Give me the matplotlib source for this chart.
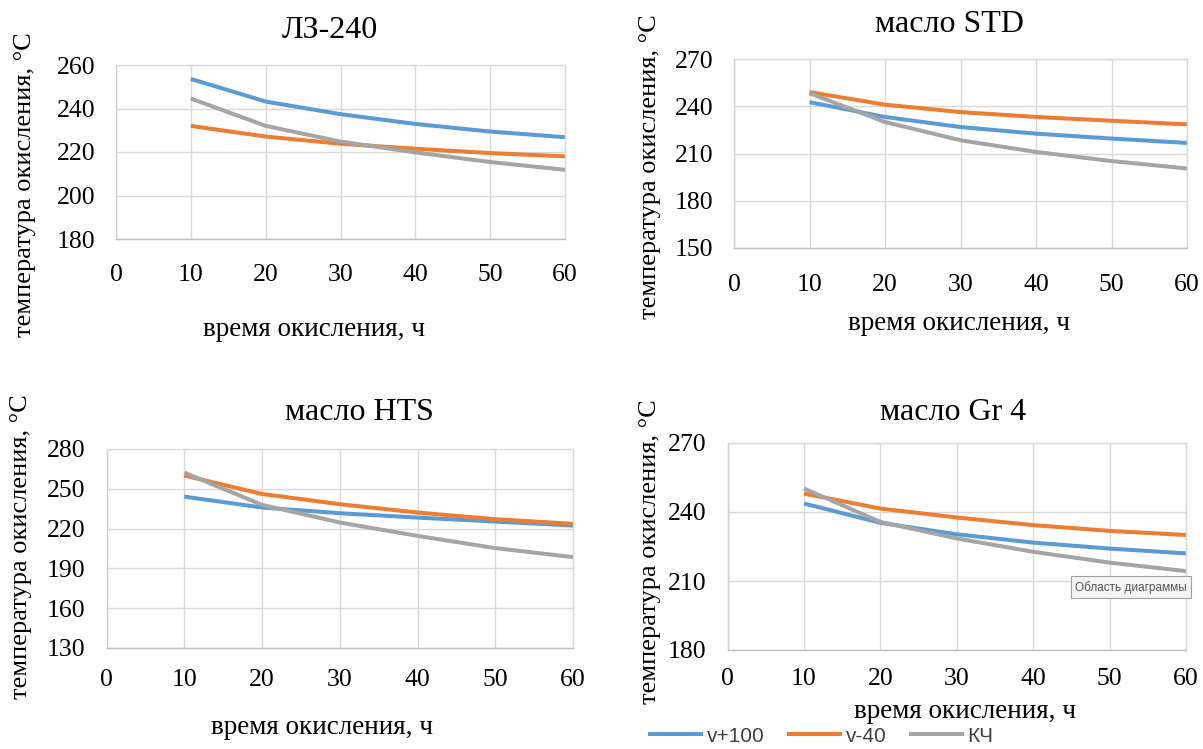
import matplotlib
matplotlib.use("Agg")
import matplotlib.pyplot as plt

W, H = 1203, 749
plt.rcParams['font.family'] = ['Liberation Serif', 'DejaVu Serif']

hours = [10, 20, 30, 40, 50, 60]
series_names = ["v+100", "v-40", "КЧ"]
colors = ["#5b9bd5", "#ed7d31", "#a5a5a5"]

titles = ["ЛЗ-240", "масло STD", "масло HTS", "масло Gr 4"]

lz240_v100 = [253.6, 243.2, 237.4, 232.9, 229.4, 226.8]
lz240_v40 = [232.0, 227.1, 223.8, 221.5, 219.5, 218.0]
lz240_kch = [244.6, 232.0, 224.8, 219.8, 215.4, 211.8]

std_v100 = [242.6, 233.2, 226.8, 222.6, 219.5, 216.7]
std_v40 = [249.0, 241.0, 236.3, 233.2, 230.8, 228.5]
std_kch = [248.3, 230.0, 218.4, 211.0, 205.2, 200.5]

hts_v100 = [244.1, 235.9, 231.6, 228.3, 225.3, 222.3]
hts_v40 = [260.0, 246.1, 238.4, 232.1, 227.1, 223.6]
hts_kch = [262.2, 237.9, 224.6, 214.5, 205.3, 198.5]

gr4_v100 = [243.7, 235.3, 230.3, 226.7, 224.1, 222.0]
gr4_v40 = [248.0, 241.5, 237.6, 234.3, 231.8, 230.0]
gr4_kch = [250.2, 235.7, 228.5, 222.7, 218.0, 214.3]

x_ticks = [0, 10, 20, 30, 40, 50, 60]
y_ticks_lz = [180, 200, 220, 240, 260]
y_ticks_std = [150, 180, 210, 240, 270]
y_ticks_hts = [130, 160, 190, 220, 250, 280]
y_ticks_gr4 = [180, 210, 240, 270]

xlabel = "время окисления, ч"
ylabel = "температура окисления, °C"
tooltip = "Область диаграммы"

panels = [
    (titles[0], [lz240_v100, lz240_v40, lz240_kch], y_ticks_lz),
    (titles[1], [std_v100, std_v40, std_kch], y_ticks_std),
    (titles[2], [hts_v100, hts_v40, hts_kch], y_ticks_hts),
    (titles[3], [gr4_v100, gr4_v40, gr4_kch], y_ticks_gr4),
]

# pixel layout: (left, right, top, bottom)
boxes = [(116, 565, 65, 239), (734, 1187, 59, 248),
         (106.5, 573, 449, 648), (727.6, 1186, 443, 650)]
title_pos = [(329.5, 30), (949, 25), (359, 412), (953, 413)]
xlab_pos = [(314, 330), (959, 323), (322, 727), (965, 712)]
ylab_pos = [(25, 185), (650, 167), (21, 547), (650, 552)]
xtick_pad = [18, 19, 15, 13]

def fx(px):
    return px / W

def fy(py):
    return 1 - py / H

fig = plt.figure(figsize=(W / 100, H / 100), dpi=100)
grid_c = "#d9d9d9"
handles = None
for i, (title, data, yt) in enumerate(panels):
    l, r, t, b = boxes[i]
    ax = fig.add_axes([fx(l), fy(b), (r - l) / W, (b - t) / H])
    lines = []
    for vals, c, name in zip(data, colors, series_names):
        ln, = ax.plot(hours, vals, color=c, lw=2.9, label=name,
                      solid_capstyle='butt', solid_joinstyle='round')
        lines.append(ln)
    handles = lines
    ax.set_xlim(0, 60)
    ax.set_ylim(yt[0], yt[-1])
    ax.set_xticks(x_ticks)
    ax.set_yticks(yt)
    ax.grid(True, color=grid_c, lw=1.0)
    ax.set_axisbelow(True)
    for s in ax.spines.values():
        s.set_color(grid_c)
        s.set_linewidth(1.0)
    ax.spines['bottom'].set_color("#bfbfbf")
    ax.spines['left'].set_color("#d0d0d0")
    ax.tick_params(axis='both', length=0, labelsize=18.5, colors='black')
    ax.tick_params(axis='x', pad=xtick_pad[i])
    ax.tick_params(axis='y', pad=15)
    fig.text(fx(title_pos[i][0]), fy(title_pos[i][1]), title, fontsize=23,
             ha='center', va='center')
    fig.text(fx(xlab_pos[i][0]), fy(xlab_pos[i][1]), xlabel, fontsize=19.5,
             ha='center', va='center')
    fig.text(fx(ylab_pos[i][0]), fy(ylab_pos[i][1]), ylabel, fontsize=19,
             ha='center', va='center', rotation=90)
    if i == 3:
        ax.text(0.88, 0.304, tooltip, transform=ax.transAxes, fontsize=8.5,
                family=['Liberation Sans', 'DejaVu Sans'], color='#555555',
                ha='center', va='center',
                bbox=dict(boxstyle='square,pad=0.35', fc='#f4f4f4',
                          ec='#a0a0a0', lw=0.8))

fig.legend(handles, series_names, loc='center',
           bbox_to_anchor=(fx(821), fy(736)), ncol=3, frameon=False,
           prop={'family': 'Liberation Sans', 'size': 15},
           labelcolor='#404040',
           handlelength=2.6, handletextpad=0.2, columnspacing=1.1,
           borderpad=0, borderaxespad=0)

fig.savefig("out.png", dpi=100)
